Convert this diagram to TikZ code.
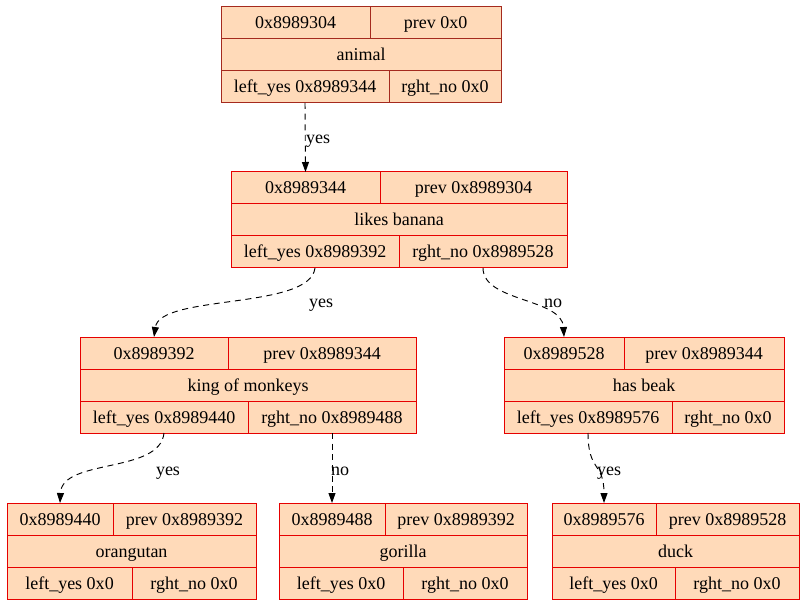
\documentclass[tikz,border=0pt]{standalone}
\usepackage{fontspec}
\setmainfont{Liberation Serif}
\usetikzlibrary{fit,arrows.meta}
\definecolor{peach}{RGB}{255,218,185}
\definecolor{recred}{RGB}{230,0,0}
\definecolor{recbrown}{RGB}{165,42,30}
\tikzset{
  cellbox/.style={draw=recred, fill=peach, line width=0.75pt, inner sep=0pt, outer sep=0pt},
  topcell/.style={cellbox, draw=recbrown},
  txt/.style={font=\fontsize{13.5}{15}\selectfont, inner sep=0pt, text=black,
    text height=9pt, text depth=0pt},
  link/.style={draw=black, line width=0.7pt, dash pattern=on 4.5pt off 3.5pt,
    -{Triangle[length=7.5pt,width=5.25pt]}},
  elabel/.style={txt},
}
\newcommand\cellnode[7][cellbox]{\node[#1, fit={(#3,#4) (#5,#6)},
  label={[txt,name=#2t]center:#7}] (#2) {};}
\begin{document}
\begin{tikzpicture}[x=0.75pt,y=-0.75pt]
\useasboundingbox (0,0) rectangle (805,605);
\fill[white] (0,0) rectangle (805,605);
% record 1
\cellnode[topcell]{n1a}{221}{7}{370}{39}{0x8989304}
\cellnode[topcell]{n1b}{370}{7}{501}{39}{prev 0x0}
\cellnode[topcell]{n1c}{221}{39}{501}{71}{animal}
\cellnode[topcell]{n1l}{221}{71}{389}{103}{left\_yes 0x8989344}
\cellnode[topcell]{n1r}{389}{71}{501}{103}{rght\_no 0x0}
% record 2
\cellnode{n2a}{231}{172}{380}{204}{0x8989344}
\cellnode{n2b}{380}{172}{567}{204}{prev 0x8989304}
\cellnode{n2c}{231}{204}{567}{236}{likes banana}
\cellnode{n2l}{231}{236}{399}{268}{left\_yes 0x8989392}
\cellnode{n2r}{399}{236}{567}{268}{rght\_no 0x8989528}
% record 3
\cellnode{n3a}{80}{337}{228}{369}{0x8989392}
\cellnode{n3b}{228}{337}{416}{369}{prev 0x8989344}
\cellnode{n3c}{80}{369}{416}{401}{king of monkeys}
\cellnode{n3l}{80}{401}{248}{433}{left\_yes 0x8989440}
\cellnode{n3r}{248}{401}{416}{433}{rght\_no 0x8989488}
% record 4
\cellnode{n4a}{504}{337}{624}{369}{0x8989528}
\cellnode{n4b}{624}{337}{784}{369}{prev 0x8989344}
\cellnode{n4c}{504}{369}{784}{401}{has beak}
\cellnode{n4l}{504}{401}{672}{433}{left\_yes 0x8989576}
\cellnode{n4r}{672}{401}{784}{433}{rght\_no 0x0}
% record 5
\cellnode{n5a}{7}{503}{113}{535}{0x8989440}
\cellnode{n5b}{113}{503}{256}{535}{prev 0x8989392}
\cellnode{n5c}{7}{535}{256}{567}{orangutan}
\cellnode{n5l}{7}{567}{132}{599}{left\_yes 0x0}
\cellnode{n5r}{132}{567}{256}{599}{rght\_no 0x0}
% record 6
\cellnode{n6a}{279}{503}{385}{535}{0x8989488}
\cellnode{n6b}{385}{503}{527}{535}{prev 0x8989392}
\cellnode{n6c}{279}{535}{527}{567}{gorilla}
\cellnode{n6l}{279}{567}{403}{599}{left\_yes 0x0}
\cellnode{n6r}{403}{567}{527}{599}{rght\_no 0x0}
% record 7
\cellnode{n7a}{552}{503}{656}{535}{0x8989576}
\cellnode{n7b}{656}{503}{799}{535}{prev 0x8989528}
\cellnode{n7c}{552}{535}{799}{567}{duck}
\cellnode{n7l}{552}{567}{675}{599}{left\_yes 0x0}
\cellnode{n7r}{675}{567}{799}{599}{rght\_no 0x0}
% edges
\draw[link] (n1l.south) -- (n2a.north);
\draw[link] (n2l.south) .. controls (310,310) and (160,294) .. (n3a.north);
\draw[link] (n2r.south) .. controls (483,302) and (562,298) .. (n4a.north);
\draw[link] (n3l.south) .. controls (160,474) and (62,458) .. (n5a.north);
\draw[link] (n3r.south) -- (n6a.north);
\draw[link] (n4l.south) .. controls (588,472) and (604,462) .. (n7a.north);
% edge labels
\node[elabel] (e1) at (318,138) {yes};
\node[elabel] (e2) at (321,302) {yes};
\node[elabel] (e3) at (553,302) {no};
\node[elabel] (e4) at (168,469) {yes};
\node[elabel] (e5) at (340,469) {no};
\node[elabel] (e6) at (609,469) {yes};
\end{tikzpicture}
\end{document}
